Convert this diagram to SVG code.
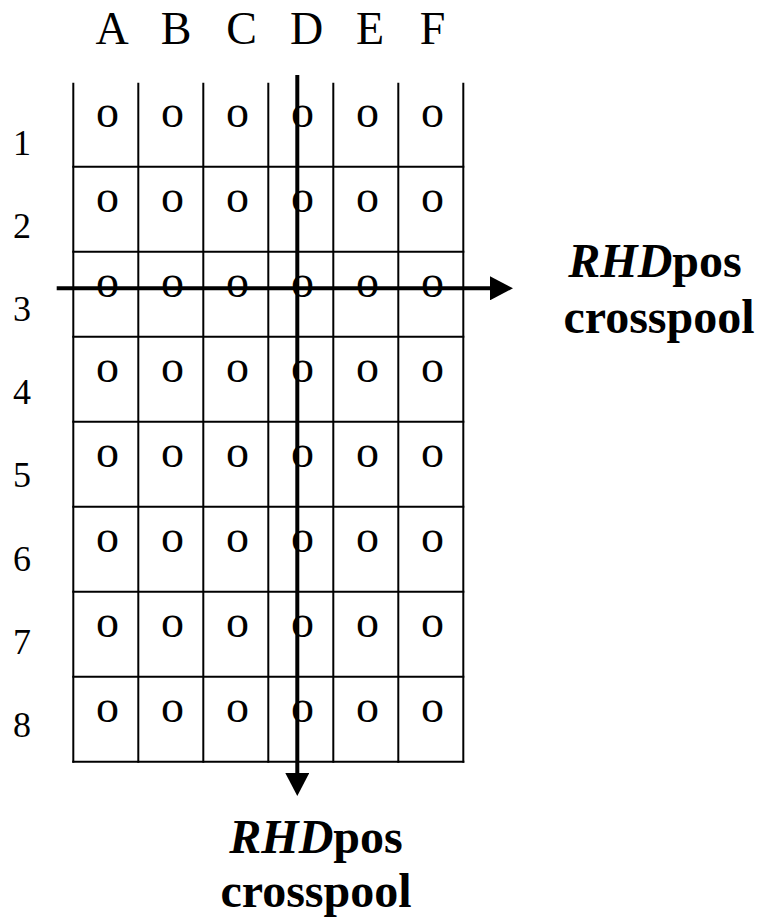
<svg xmlns="http://www.w3.org/2000/svg" width="765" height="920" viewBox="0 0 765 920">
  <style>
    .grid line { stroke: #000; stroke-width: 2; }
    .hdr { font-family: "Liberation Serif", "Times New Roman", serif; font-size: 46px; text-anchor: middle; fill: #000; }
    .num { font-family: "Liberation Serif", "Times New Roman", serif; font-size: 36px; text-anchor: middle; fill: #000; }
    .well { font-family: "Liberation Serif", "Times New Roman", serif; font-size: 46px; text-anchor: middle; fill: #000; }
    .lbl { font-family: "Liberation Serif", "Times New Roman", serif; font-size: 48px; font-weight: bold; text-anchor: middle; fill: #000; }
    .gene { font-style: italic; }
    .arrow { stroke: #000; stroke-width: 4; fill: none; }
  </style>
  <defs>
    <marker id="head" markerUnits="userSpaceOnUse" markerWidth="24" markerHeight="24" refX="2" refY="12" orient="auto">
      <path d="M0,0 L23,12 L0,24 Z" fill="#000"/>
    </marker>
  </defs>
  <rect width="765" height="920" fill="#fff"/>

  <!-- column headers -->
  <g id="columns" class="hdr">
    <text x="112" y="44">A</text>
    <text x="176" y="44">B</text>
    <text x="241.5" y="44">C</text>
    <text x="306.7" y="44">D</text>
    <text x="370" y="44">E</text>
    <text x="432.5" y="44">F</text>
  </g>

  <!-- row numbers -->
  <g id="rows" class="num">
    <text x="22" y="155">1</text>
    <text x="22" y="238">2</text>
    <text x="22" y="321">3</text>
    <text x="22" y="404">4</text>
    <text x="22" y="487">5</text>
    <text x="22" y="571">6</text>
    <text x="22" y="654">7</text>
    <text x="22" y="737">8</text>
  </g>

  <!-- plate grid: open top edge -->
  <g id="plate" class="grid">
    <line x1="73.3" y1="82.7" x2="73.3" y2="762.7"/>
    <line x1="138.3" y1="82.7" x2="138.3" y2="762.7"/>
    <line x1="203.3" y1="82.7" x2="203.3" y2="762.7"/>
    <line x1="268.3" y1="82.7" x2="268.3" y2="762.7"/>
    <line x1="333.3" y1="82.7" x2="333.3" y2="762.7"/>
    <line x1="398.3" y1="82.7" x2="398.3" y2="762.7"/>
    <line x1="463.3" y1="82.7" x2="463.3" y2="762.7"/>
    <line x1="72.3" y1="166.7" x2="464.3" y2="166.7"/>
    <line x1="72.3" y1="251.7" x2="464.3" y2="251.7"/>
    <line x1="72.3" y1="336.7" x2="464.3" y2="336.7"/>
    <line x1="72.3" y1="421.7" x2="464.3" y2="421.7"/>
    <line x1="72.3" y1="506.7" x2="464.3" y2="506.7"/>
    <line x1="72.3" y1="591.7" x2="464.3" y2="591.7"/>
    <line x1="72.3" y1="676.7" x2="464.3" y2="676.7"/>
    <line x1="72.3" y1="761.7" x2="464.3" y2="761.7"/>
  </g>

  <!-- wells, one group per plate row -->
  <g id="row1" class="well">
    <text x="107.5" y="126.7">o</text><text x="172.5" y="126.7">o</text><text x="237.5" y="126.7">o</text><text x="302.5" y="126.7">o</text><text x="367.5" y="126.7">o</text><text x="432.5" y="126.7">o</text>
  </g>
  <g id="row2" class="well">
    <text x="107.5" y="211.7">o</text><text x="172.5" y="211.7">o</text><text x="237.5" y="211.7">o</text><text x="302.5" y="211.7">o</text><text x="367.5" y="211.7">o</text><text x="432.5" y="211.7">o</text>
  </g>
  <g id="row3" class="well">
    <text x="107.5" y="296.7">o</text><text x="172.5" y="296.7">o</text><text x="237.5" y="296.7">o</text><text x="302.5" y="296.7">o</text><text x="367.5" y="296.7">o</text><text x="432.5" y="296.7">o</text>
  </g>
  <g id="row4" class="well">
    <text x="107.5" y="381.7">o</text><text x="172.5" y="381.7">o</text><text x="237.5" y="381.7">o</text><text x="302.5" y="381.7">o</text><text x="367.5" y="381.7">o</text><text x="432.5" y="381.7">o</text>
  </g>
  <g id="row5" class="well">
    <text x="107.5" y="466.7">o</text><text x="172.5" y="466.7">o</text><text x="237.5" y="466.7">o</text><text x="302.5" y="466.7">o</text><text x="367.5" y="466.7">o</text><text x="432.5" y="466.7">o</text>
  </g>
  <g id="row6" class="well">
    <text x="107.5" y="551.7">o</text><text x="172.5" y="551.7">o</text><text x="237.5" y="551.7">o</text><text x="302.5" y="551.7">o</text><text x="367.5" y="551.7">o</text><text x="432.5" y="551.7">o</text>
  </g>
  <g id="row7" class="well">
    <text x="107.5" y="636.7">o</text><text x="172.5" y="636.7">o</text><text x="237.5" y="636.7">o</text><text x="302.5" y="636.7">o</text><text x="367.5" y="636.7">o</text><text x="432.5" y="636.7">o</text>
  </g>
  <g id="row8" class="well">
    <text x="107.5" y="721.7">o</text><text x="172.5" y="721.7">o</text><text x="237.5" y="721.7">o</text><text x="302.5" y="721.7">o</text><text x="367.5" y="721.7">o</text><text x="432.5" y="721.7">o</text>
  </g>

  <!-- pooling arrows -->
  <g id="connectors">
    <line class="arrow" x1="56.7" y1="288.3" x2="492" y2="288.3" marker-end="url(#head)"/>
    <line class="arrow" x1="297.3" y1="75" x2="297.3" y2="775" marker-end="url(#head)"/>
  </g>

  <!-- pool labels -->
  <g id="row-pool-label" class="lbl">
    <text x="655" y="277"><tspan class="gene">RHD</tspan>pos</text>
    <text x="659" y="333">crosspool</text>
  </g>
  <g id="column-pool-label" class="lbl">
    <text x="316" y="853"><tspan class="gene">RHD</tspan>pos</text>
    <text x="316" y="907">crosspool</text>
  </g>
</svg>
